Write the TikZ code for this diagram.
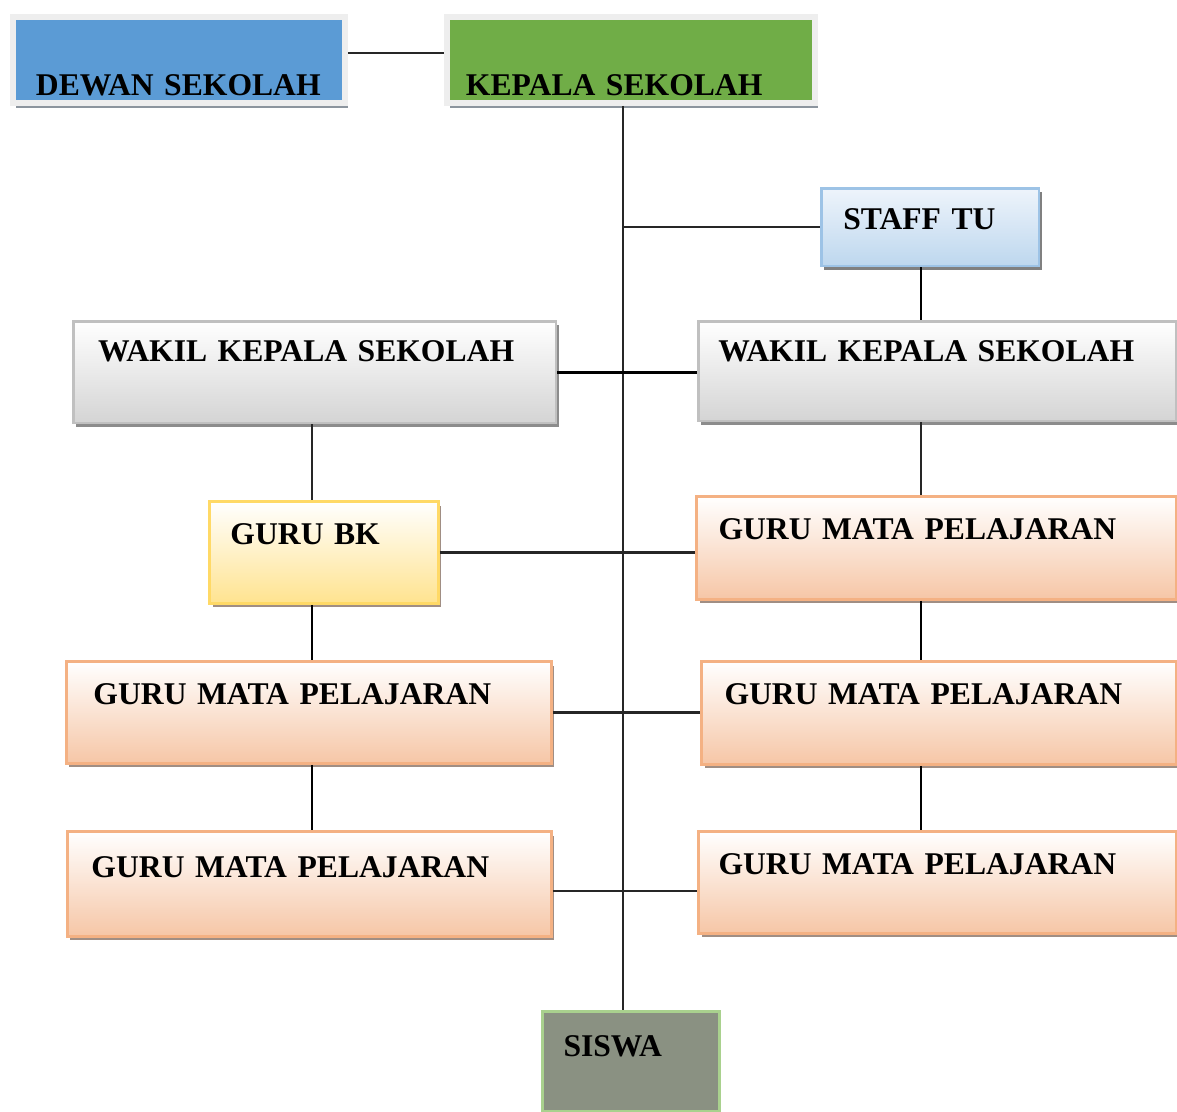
\documentclass[tikz,border=0pt]{standalone}
\usepackage{fontspec}
\setmainfont{Liberation Serif}
\usetikzlibrary{shadows}

\definecolor{dewanblue}{HTML}{5B9BD5}
\definecolor{kepalagreen}{HTML}{70AD47}
\definecolor{paleedge}{HTML}{EEEEEE}
\definecolor{topshadow}{HTML}{8C959E}
\definecolor{staffedge}{HTML}{9DC3E6}
\definecolor{stafftop}{HTML}{EEF4FB}
\definecolor{staffbot}{HTML}{BDD7EE}
\definecolor{wakiledge}{HTML}{C0C0C0}
\definecolor{wakilbot}{HTML}{D4D4D4}
\definecolor{bkedge}{HTML}{FFD966}
\definecolor{bkbot}{HTML}{FFE38F}
\definecolor{gmpedge}{HTML}{F4B183}
\definecolor{gmpbot}{HTML}{F6C6A6}
\definecolor{warmshadow}{HTML}{A08E84}
\definecolor{siswafill}{HTML}{8A9182}
\definecolor{siswaedge}{HTML}{A9D18E}

\begin{document}
\begin{tikzpicture}[x=0.02cm, y=-0.02cm,
    unit/.style={anchor=north west, inner sep=0pt, align=left,
        font=\bfseries\fontsize{18}{20}\selectfont},
    topbox/.style={unit, fill=#1, draw=paleedge, line width=0.12cm,
        drop shadow={shadow xshift=0.06cm, shadow yshift=-0.1cm,
        fill=topshadow, opacity=1}},
    staffbox/.style={unit, top color=stafftop, bottom color=staffbot,
        draw=staffedge, line width=0.05cm,
        drop shadow={shadow xshift=0.06cm, shadow yshift=-0.08cm,
        fill=gray, opacity=1}},
    wakilbox/.style={unit, top color=white, bottom color=wakilbot,
        draw=wakiledge, line width=0.05cm,
        drop shadow={shadow xshift=0.06cm, shadow yshift=-0.08cm,
        fill=gray!90, opacity=1}},
    bkbox/.style={unit, top color=white, bottom color=bkbot,
        draw=bkedge, line width=0.06cm,
        drop shadow={shadow xshift=0.06cm, shadow yshift=-0.08cm,
        fill=warmshadow, opacity=1}},
    gmpbox/.style={unit, top color=white, bottom color=gmpbot,
        draw=gmpedge, line width=0.06cm,
        drop shadow={shadow xshift=0.06cm, shadow yshift=-0.08cm,
        fill=warmshadow, opacity=1}},
    siswabox/.style={unit, fill=siswafill, draw=siswaedge, line width=0.06cm},
    link/.style={line width=1.2pt, black!85},
    collink/.style={line width=1.6pt, black}]

    \useasboundingbox (0,0) rectangle (1177,1112);

    % Column lines
    \coordinate (spine) at (623,0);
    \coordinate (lcol) at (312,0);
    \coordinate (rcol) at (921,0);

    % Top row
    \node[topbox=dewanblue, text width=6.64cm, text height=1.58cm, text depth=0.14cm]
        (dewan) at (10,14) {\hspace*{0.46cm}DEWAN SEKOLAH};
    \node[topbox=kepalagreen, text width=7.36cm, text height=1.58cm, text depth=0.14cm]
        (kepala) at (444,14) {\hspace*{0.38cm}KEPALA SEKOLAH};

    % Staff and deputies
    \node[staffbox, text width=4.36cm, text height=0.82cm, text depth=0.74cm]
        (staff) at (820,187) {\hspace*{0.44cm}STAFF TU};
    \node[wakilbox, text width=9.66cm, text height=0.8cm, text depth=1.24cm]
        (wakilL) at (72,320) {\hspace*{0.5cm}WAKIL KEPALA SEKOLAH};
    \node[wakilbox, text width=9.56cm, text height=0.8cm, text depth=1.2cm]
        (wakilR) at (697,320) {\hspace*{0.4cm}WAKIL KEPALA SEKOLAH};

    % Teachers
    \node[bkbox, text width=4.58cm, text height=0.86cm, text depth=1.18cm]
        (gurubk) at (208,500) {\hspace*{0.42cm}GURU BK};
    \node[gmpbox, text width=9.6cm, text height=0.86cm, text depth=1.2cm]
        (gmpR1) at (695,495) {\hspace*{0.44cm}GURU MATA PELAJARAN};
    \node[gmpbox, text width=9.7cm, text height=0.86cm, text depth=1.18cm]
        (gmpL1) at (65,660) {\hspace*{0.54cm}GURU MATA PELAJARAN};
    \node[gmpbox, text width=9.5cm, text height=0.86cm, text depth=1.2cm]
        (gmpR2) at (700,660) {\hspace*{0.46cm}GURU MATA PELAJARAN};
    \node[gmpbox, text width=9.68cm, text height=0.92cm, text depth=1.18cm]
        (gmpL2) at (66,830) {\hspace*{0.48cm}GURU MATA PELAJARAN};
    \node[gmpbox, text width=9.56cm, text height=0.86cm, text depth=1.18cm]
        (gmpR3) at (697,830) {\hspace*{0.4cm}GURU MATA PELAJARAN};

    % Students
    \node[siswabox, text width=3.54cm, text height=0.9cm, text depth=1.1cm]
        (siswa) at (541,1010) {\hspace*{0.42cm}SISWA};

    % Connectors
    \draw[link] ([yshift=0.14cm]dewan.east) -- ([yshift=0.14cm]dewan.east -| kepala.west);
    \draw[link] (kepala.south -| spine) -- (siswa.north -| spine);
    \draw[link] (staff.west -| spine) -- (staff.west);
    \draw[collink] (staff.south -| rcol) -- (wakilR.north -| rcol);
    \draw[collink] (wakilL.east) -- (wakilL.east -| wakilR.west);
    \draw[link] (wakilL.south -| lcol) -- (gurubk.north -| lcol);
    \draw[link] (wakilR.south -| rcol) -- (gmpR1.north -| rcol);
    \draw[link] (gurubk.east) -- (gurubk.east -| gmpR1.west);
    \draw[collink] (gurubk.south -| lcol) -- (gmpL1.north -| lcol);
    \draw[collink] (gmpR1.south -| rcol) -- (gmpR2.north -| rcol);
    \draw[link] (gmpL1.east) -- (gmpL1.east -| gmpR2.west);
    \draw[collink] (gmpL1.south -| lcol) -- (gmpL2.north -| lcol);
    \draw[collink] (gmpR2.south -| rcol) -- (gmpR3.north -| rcol);
    \draw[link] ([yshift=-0.14cm]gmpL2.east) -- ([yshift=-0.14cm]gmpL2.east -| gmpR3.west);
\end{tikzpicture}
\end{document}
